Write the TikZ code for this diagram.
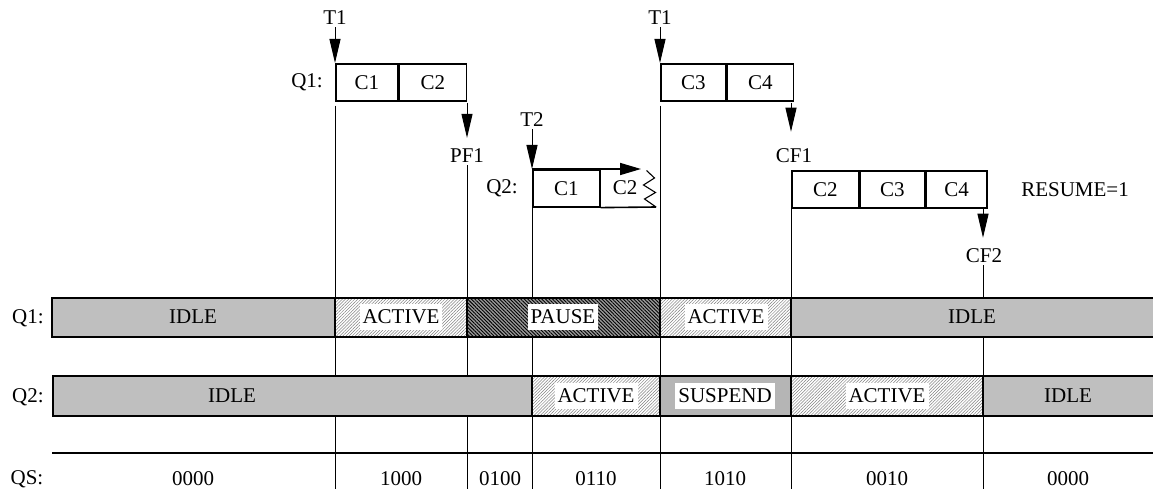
\documentclass[tikz,border=0pt]{standalone}
\usepackage{fontspec}
\setmainfont{Liberation Serif}
\usetikzlibrary{arrows.meta,patterns,patterns.meta}
\begin{document}
\begin{tikzpicture}[x=1pt,y=-1pt,
  font=\fontsize{21}{25}\selectfont,
  lbl/.style={inner sep=2pt},
  cell/.style={draw,line width=1.6pt,minimum height=37pt,inner sep=0pt,anchor=north west},
  guide/.style={line width=0.9pt},
  arr/.style={line width=1pt,-{Triangle[length=24pt,width=11pt]}},
  harr/.style={line width=1.6pt,-{Triangle[length=21pt,width=12pt]}},
  idle/.style={fill=black!25},
  active/.style={pattern={Lines[angle=45,distance=2.2pt,line width=0.5pt]},pattern color=black!50},
  pause/.style={fill=black!40,postaction={pattern={Lines[angle=-45,distance=2.5pt,line width=0.9pt]},pattern color=black}},
  suspend/.style={fill=black!15,postaction={pattern={Dots[distance=2pt,radius=0.6pt]},pattern color=black!75}},
  tag/.style={fill=white,inner xsep=3pt,inner ysep=0pt,minimum height=26pt},
  barrim/.style={line width=2pt},
  sep/.style={line width=1.2pt},
]
\useasboundingbox (0,0) rectangle (1153,489);
\coordinate (bot) at (0,489);

% ---- upper part: transfers ----
\node[lbl] (T1a) at (335,18) {T1};
\node[lbl] (T1b) at (660,18) {T1};
\node[lbl] (T2) at (532,120) {T2};
\node[lbl] (PF1) at (467,156) {PF1};
\node[lbl] (CF1) at (794,156) {CF1};
\node[lbl] (CF2) at (984,256) {CF2};
\node[lbl] (resume) at (1075,190) {RESUME=1};
\node[lbl] (q1lab) at (307,82) {Q1:};
\node[lbl] (q2lab) at (502,188) {Q2:};

\node[cell,minimum width=62pt] (q1c1) at (335,63) {C1};
\node[cell,minimum width=67pt] (q1c2) at (q1c1.north east) {C2};
\node[cell,minimum width=65pt] (q1c3) at (660,63) {C3};
\node[cell,minimum width=66pt] (q1c4) at (q1c3.north east) {C4};

\node[cell,minimum width=67pt] (q2c1) at (532,169) {C1};
\node[lbl] (q2c2) at (625,188) {C2};

\node[cell,minimum width=67pt] (q3c1) at (791,170) {C2};
\node[cell,minimum width=64pt] (q3c2) at (q3c1.north east) {C3};
\node[cell,minimum width=61pt] (q3c3) at (q3c2.north east) {C4};

% open Q2 box
\coordinate (q2tip) at (641,169);
\coordinate (q2end) at (656,207);
\draw[harr] (q2c1.north west) -- (q2tip);
\draw[line width=1.6pt] (q2c1.south east) -- (q2end);
\draw[line width=1.1pt] (646.5,170.5) -- (654.5,178) -- (643.5,185) -- (655.5,192.5) -- (644.5,199) -- (q2end);

% arrows
\coordinate (pf1top) at (467,103);
\coordinate (cf1top) at (791,103);
\coordinate (cf2top) at (983,209);
\draw[arr] (T1a.south) -- (q1c1.north west);
\draw[arr] (T1b.south) -- (q1c3.north west);
\draw[arr] (T2.south) -- (q2c1.north west);
\draw[arr,shorten >=9pt] (pf1top) -- (pf1top |- PF1.north);
\draw[arr,shorten >=15pt] (cf1top) -- (cf1top |- CF1.north);
\draw[arr,shorten >=9pt] (cf2top) -- (cf2top |- CF2.north);

% guide lines
\draw[guide] ([yshift=-4pt]q1c1.south west) -- (q1c1.south west |- bot);
\draw[guide] (PF1.south) -- (PF1.south |- bot);
\draw[guide] (q2c1.south west) -- (q2c1.south west |- bot);
\draw[guide] ([yshift=-4pt]q1c3.south west) -- (q1c3.south west |- bot);
\draw[guide] (q3c1.south west) -- (q3c1.south west |- bot);
\draw[guide] (cf2top |- CF2.south) -- (cf2top |- bot);

% ---- Q1 bar ----
\path[idle] (52,298) rectangle (335,337);
\path[active] (335,298) rectangle (467,337);
\path[pause] (467,298) rectangle (660,337);
\path[active] (660,298) rectangle (791,337);
\path[idle] (791,298) rectangle (1153,337);
\foreach \x in {335,467,660,791} \draw[sep] (\x,298) -- (\x,337);
\draw[barrim] (1153,298) -- (52,298) -- (52,337) -- (1153,337);

% ---- Q2 bar ----
\path[idle] (54,376) rectangle (532,416);
\path[active] (532,376) rectangle (660,416);
\path[suspend] (660,376) rectangle (791,416);
\path[active] (791,376) rectangle (983,416);
\path[idle] (983,376) rectangle (1153,416);
\foreach \x in {532,660,791,983} \draw[sep] (\x,376) -- (\x,416);
\draw[barrim] (1153,376) -- (53,376) -- (53,416) -- (1153,416);

% QS line
\draw[barrim] (52,453) -- (1153,453);

% row labels
\node[lbl] (rq1) at (28,318) {Q1:};
\node[lbl] (rq2) at (28,397) {Q2:};
\node[lbl] (rqs) at (27,479) {QS:};

% Q1 states
\node (s11) at (193,317) {IDLE};
\node[tag] (s12) at (401,317) {ACTIVE};
\node[tag] (s13) at (563,317) {PAUSE};
\node[tag] (s14) at (726,317) {ACTIVE};
\node (s15) at (972,317) {IDLE};

% Q2 states
\node (s21) at (232,396) {IDLE};
\node[tag] (s22) at (596,396) {ACTIVE};
\node[tag] (s23) at (725,396) {SUSPEND};
\node[tag] (s24) at (887,396) {ACTIVE};
\node (s25) at (1068,396) {IDLE};

% QS values
\node (v1) at (193,479) {0000};
\node (v2) at (401,479) {1000};
\node (v3) at (500,479) {0100};
\node (v4) at (596,479) {0110};
\node (v5) at (725,479) {1010};
\node (v6) at (887,479) {0010};
\node (v7) at (1068,479) {0000};
\end{tikzpicture}
\end{document}
